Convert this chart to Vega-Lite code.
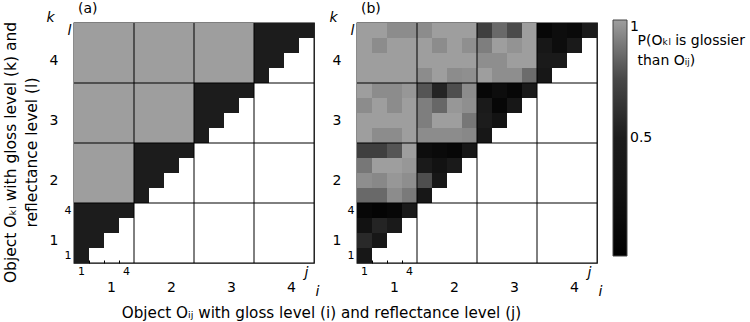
{
  "$schema": "https://vega.github.io/schema/vega-lite/v6.json",
  "padding": {"left": 2, "top": 1, "right": 0, "bottom": 0},
  "config": {
    "font": "DejaVu Sans",
    "view": {"stroke": "black", "strokeWidth": 1.3},
    "axis": {"grid": false, "domain": false, "ticks": false, "labelFont": "DejaVu Sans", "titleFont": "DejaVu Sans", "labelColor": "black", "titleColor": "black", "titleFontWeight": "normal", "labelAngle": 0, "labelOverlap": false},
    "title": {"font": "DejaVu Sans", "fontSize": 14, "fontWeight": "normal", "anchor": "start", "frame": "group", "offset": -6, "dx": 4, "color": "black"}
  },
  "datasets": {
    "vlines": [{"ij": "21"}, {"ij": "31"}, {"ij": "41"}],
    "hlines": [{"kl": "34"}, {"kl": "24"}, {"kl": "14"}],
    "a": [
      {"ij":"11","kl":"11","p":0.5},
      {"ij":"11","kl":"12","p":0.5},{"ij":"12","kl":"12","p":0.5},
      {"ij":"11","kl":"13","p":0.5},{"ij":"12","kl":"13","p":0.5},{"ij":"13","kl":"13","p":0.5},
      {"ij":"11","kl":"14","p":0.5},{"ij":"12","kl":"14","p":0.5},{"ij":"13","kl":"14","p":0.5},{"ij":"14","kl":"14","p":0.5},
      {"ij":"11","kl":"21","p":1},{"ij":"12","kl":"21","p":1},{"ij":"13","kl":"21","p":1},{"ij":"14","kl":"21","p":1},{"ij":"21","kl":"21","p":0.5},
      {"ij":"11","kl":"22","p":1},{"ij":"12","kl":"22","p":1},{"ij":"13","kl":"22","p":1},{"ij":"14","kl":"22","p":1},{"ij":"21","kl":"22","p":0.5},{"ij":"22","kl":"22","p":0.5},
      {"ij":"11","kl":"23","p":1},{"ij":"12","kl":"23","p":1},{"ij":"13","kl":"23","p":1},{"ij":"14","kl":"23","p":1},{"ij":"21","kl":"23","p":0.5},{"ij":"22","kl":"23","p":0.5},{"ij":"23","kl":"23","p":0.5},
      {"ij":"11","kl":"24","p":1},{"ij":"12","kl":"24","p":1},{"ij":"13","kl":"24","p":1},{"ij":"14","kl":"24","p":1},{"ij":"21","kl":"24","p":0.5},{"ij":"22","kl":"24","p":0.5},{"ij":"23","kl":"24","p":0.5},{"ij":"24","kl":"24","p":0.5},
      {"ij":"11","kl":"31","p":1},{"ij":"12","kl":"31","p":1},{"ij":"13","kl":"31","p":1},{"ij":"14","kl":"31","p":1},{"ij":"21","kl":"31","p":1},{"ij":"22","kl":"31","p":1},{"ij":"23","kl":"31","p":1},{"ij":"24","kl":"31","p":1},{"ij":"31","kl":"31","p":0.5},
      {"ij":"11","kl":"32","p":1},{"ij":"12","kl":"32","p":1},{"ij":"13","kl":"32","p":1},{"ij":"14","kl":"32","p":1},{"ij":"21","kl":"32","p":1},{"ij":"22","kl":"32","p":1},{"ij":"23","kl":"32","p":1},{"ij":"24","kl":"32","p":1},{"ij":"31","kl":"32","p":0.5},{"ij":"32","kl":"32","p":0.5},
      {"ij":"11","kl":"33","p":1},{"ij":"12","kl":"33","p":1},{"ij":"13","kl":"33","p":1},{"ij":"14","kl":"33","p":1},{"ij":"21","kl":"33","p":1},{"ij":"22","kl":"33","p":1},{"ij":"23","kl":"33","p":1},{"ij":"24","kl":"33","p":1},{"ij":"31","kl":"33","p":0.5},{"ij":"32","kl":"33","p":0.5},{"ij":"33","kl":"33","p":0.5},
      {"ij":"11","kl":"34","p":1},{"ij":"12","kl":"34","p":1},{"ij":"13","kl":"34","p":1},{"ij":"14","kl":"34","p":1},{"ij":"21","kl":"34","p":1},{"ij":"22","kl":"34","p":1},{"ij":"23","kl":"34","p":1},{"ij":"24","kl":"34","p":1},{"ij":"31","kl":"34","p":0.5},{"ij":"32","kl":"34","p":0.5},{"ij":"33","kl":"34","p":0.5},{"ij":"34","kl":"34","p":0.5},
      {"ij":"11","kl":"41","p":1},{"ij":"12","kl":"41","p":1},{"ij":"13","kl":"41","p":1},{"ij":"14","kl":"41","p":1},{"ij":"21","kl":"41","p":1},{"ij":"22","kl":"41","p":1},{"ij":"23","kl":"41","p":1},{"ij":"24","kl":"41","p":1},{"ij":"31","kl":"41","p":1},{"ij":"32","kl":"41","p":1},{"ij":"33","kl":"41","p":1},{"ij":"34","kl":"41","p":1},{"ij":"41","kl":"41","p":0.5},
      {"ij":"11","kl":"42","p":1},{"ij":"12","kl":"42","p":1},{"ij":"13","kl":"42","p":1},{"ij":"14","kl":"42","p":1},{"ij":"21","kl":"42","p":1},{"ij":"22","kl":"42","p":1},{"ij":"23","kl":"42","p":1},{"ij":"24","kl":"42","p":1},{"ij":"31","kl":"42","p":1},{"ij":"32","kl":"42","p":1},{"ij":"33","kl":"42","p":1},{"ij":"34","kl":"42","p":1},{"ij":"41","kl":"42","p":0.5},{"ij":"42","kl":"42","p":0.5},
      {"ij":"11","kl":"43","p":1},{"ij":"12","kl":"43","p":1},{"ij":"13","kl":"43","p":1},{"ij":"14","kl":"43","p":1},{"ij":"21","kl":"43","p":1},{"ij":"22","kl":"43","p":1},{"ij":"23","kl":"43","p":1},{"ij":"24","kl":"43","p":1},{"ij":"31","kl":"43","p":1},{"ij":"32","kl":"43","p":1},{"ij":"33","kl":"43","p":1},{"ij":"34","kl":"43","p":1},{"ij":"41","kl":"43","p":0.5},{"ij":"42","kl":"43","p":0.5},{"ij":"43","kl":"43","p":0.5},
      {"ij":"11","kl":"44","p":1},{"ij":"12","kl":"44","p":1},{"ij":"13","kl":"44","p":1},{"ij":"14","kl":"44","p":1},{"ij":"21","kl":"44","p":1},{"ij":"22","kl":"44","p":1},{"ij":"23","kl":"44","p":1},{"ij":"24","kl":"44","p":1},{"ij":"31","kl":"44","p":1},{"ij":"32","kl":"44","p":1},{"ij":"33","kl":"44","p":1},{"ij":"34","kl":"44","p":1},{"ij":"41","kl":"44","p":0.5},{"ij":"42","kl":"44","p":0.5},{"ij":"43","kl":"44","p":0.5},{"ij":"44","kl":"44","p":0.5}
    ],
    "b": [
      {"ij":"11","kl":"11","p":0.37},
      {"ij":"11","kl":"12","p":0.58},{"ij":"12","kl":"12","p":0.37},
      {"ij":"11","kl":"13","p":0.27},{"ij":"12","kl":"13","p":0.55},{"ij":"13","kl":"13","p":0.46},
      {"ij":"11","kl":"14","p":0.09},{"ij":"12","kl":"14","p":0.05},{"ij":"13","kl":"14","p":0.09},{"ij":"14","kl":"14","p":0.46},
      {"ij":"11","kl":"21","p":0.85},{"ij":"12","kl":"21","p":0.85},{"ij":"13","kl":"21","p":0.95},{"ij":"14","kl":"21","p":0.9},{"ij":"21","kl":"21","p":0.37},
      {"ij":"11","kl":"22","p":0.955},{"ij":"12","kl":"22","p":0.94},{"ij":"13","kl":"22","p":0.98},{"ij":"14","kl":"22","p":0.955},{"ij":"21","kl":"22","p":0.77},{"ij":"22","kl":"22","p":0.37},
      {"ij":"11","kl":"23","p":0.89},{"ij":"12","kl":"23","p":1},{"ij":"13","kl":"23","p":1},{"ij":"14","kl":"23","p":0.98},{"ij":"21","kl":"23","p":0.46},{"ij":"22","kl":"23","p":0.27},{"ij":"23","kl":"23","p":0.46},
      {"ij":"11","kl":"24","p":0.7},{"ij":"12","kl":"24","p":0.7},{"ij":"13","kl":"24","p":0.79},{"ij":"14","kl":"24","p":1},{"ij":"21","kl":"24","p":0.18},{"ij":"22","kl":"24","p":0.14},{"ij":"23","kl":"24","p":0.09},{"ij":"24","kl":"24","p":0.37},
      {"ij":"11","kl":"31","p":1},{"ij":"12","kl":"31","p":0.95},{"ij":"13","kl":"31","p":0.95},{"ij":"14","kl":"31","p":1},{"ij":"21","kl":"31","p":0.95},{"ij":"22","kl":"31","p":0.95},{"ij":"23","kl":"31","p":0.95},{"ij":"24","kl":"31","p":0.94},{"ij":"31","kl":"31","p":0.38},
      {"ij":"11","kl":"32","p":1},{"ij":"12","kl":"32","p":1},{"ij":"13","kl":"32","p":1},{"ij":"14","kl":"32","p":1},{"ij":"21","kl":"32","p":0.91},{"ij":"22","kl":"32","p":1},{"ij":"23","kl":"32","p":1},{"ij":"24","kl":"32","p":0.89},{"ij":"31","kl":"32","p":0.5},{"ij":"32","kl":"32","p":0.28},
      {"ij":"11","kl":"33","p":0.95},{"ij":"12","kl":"33","p":1},{"ij":"13","kl":"33","p":0.95},{"ij":"14","kl":"33","p":1},{"ij":"21","kl":"33","p":0.91},{"ij":"22","kl":"33","p":0.845},{"ij":"23","kl":"33","p":0.98},{"ij":"24","kl":"33","p":0.96},{"ij":"31","kl":"33","p":0.46},{"ij":"32","kl":"33","p":0.09},{"ij":"33","kl":"33","p":0.37},
      {"ij":"11","kl":"34","p":1},{"ij":"12","kl":"34","p":0.95},{"ij":"13","kl":"34","p":0.95},{"ij":"14","kl":"34","p":0.98},{"ij":"21","kl":"34","p":0.79},{"ij":"22","kl":"34","p":0.55},{"ij":"23","kl":"34","p":0.77},{"ij":"24","kl":"34","p":0.95},{"ij":"31","kl":"34","p":0.09},{"ij":"32","kl":"34","p":0.18},{"ij":"33","kl":"34","p":0.09},{"ij":"34","kl":"34","p":0.46},
      {"ij":"11","kl":"41","p":1},{"ij":"12","kl":"41","p":1},{"ij":"13","kl":"41","p":1},{"ij":"14","kl":"41","p":1},{"ij":"21","kl":"41","p":0.95},{"ij":"22","kl":"41","p":1},{"ij":"23","kl":"41","p":0.95},{"ij":"24","kl":"41","p":0.96},{"ij":"31","kl":"41","p":1},{"ij":"32","kl":"41","p":0.955},{"ij":"33","kl":"41","p":0.955},{"ij":"34","kl":"41","p":0.86},{"ij":"41","kl":"41","p":0.38},
      {"ij":"11","kl":"42","p":1},{"ij":"12","kl":"42","p":1},{"ij":"13","kl":"42","p":1},{"ij":"14","kl":"42","p":1},{"ij":"21","kl":"42","p":1},{"ij":"22","kl":"42","p":1},{"ij":"23","kl":"42","p":1},{"ij":"24","kl":"42","p":1},{"ij":"31","kl":"42","p":0.955},{"ij":"32","kl":"42","p":0.955},{"ij":"33","kl":"42","p":1},{"ij":"34","kl":"42","p":1},{"ij":"41","kl":"42","p":0.46},{"ij":"42","kl":"42","p":0.46},
      {"ij":"11","kl":"43","p":1},{"ij":"12","kl":"43","p":0.95},{"ij":"13","kl":"43","p":1},{"ij":"14","kl":"43","p":1},{"ij":"21","kl":"43","p":1},{"ij":"22","kl":"43","p":0.95},{"ij":"23","kl":"43","p":1},{"ij":"24","kl":"43","p":0.96},{"ij":"31","kl":"43","p":0.91},{"ij":"32","kl":"43","p":1},{"ij":"33","kl":"43","p":0.97},{"ij":"34","kl":"43","p":1},{"ij":"41","kl":"43","p":0.37},{"ij":"42","kl":"43","p":0.18},{"ij":"43","kl":"43","p":0.46},
      {"ij":"11","kl":"44","p":1},{"ij":"12","kl":"44","p":1},{"ij":"13","kl":"44","p":0.95},{"ij":"14","kl":"44","p":0.95},{"ij":"21","kl":"44","p":0.95},{"ij":"22","kl":"44","p":1},{"ij":"23","kl":"44","p":1},{"ij":"24","kl":"44","p":1},{"ij":"31","kl":"44","p":0.7},{"ij":"32","kl":"44","p":0.85},{"ij":"33","kl":"44","p":0.76},{"ij":"34","kl":"44","p":1},{"ij":"41","kl":"44","p":0.09},{"ij":"42","kl":"44","p":0.18},{"ij":"43","kl":"44","p":0.14},{"ij":"44","kl":"44","p":0.47}
    ]
  },
  "hconcat": [
    {
      "title": "(a)",
      "width": 240,
      "height": 240,
      "layer": [
        {
          "data": {"name": "a"},
          "mark": {"type": "rect"},
          "encoding": {
            "x": {"field": "ij", "type": "ordinal", "sort": null,
              "scale": {"domain": ["11","12","13","14","21","22","23","24","31","32","33","34","41","42","43","44"], "paddingInner": 0, "paddingOuter": 0},
              "axis": {"orient": "bottom", "values": ["11","14","44"], "labelExpr": "datum.value == '11' ? '1' : datum.value == '14' ? '4' : 'j'",
                "labelFontSize": {"condition": {"test": "datum.value == '44'", "value": 14}, "value": 11},
                "labelFontStyle": {"condition": {"test": "datum.value == '44'", "value": "italic"}, "value": "normal"},
                "labelPadding": 2,
                "title": "Object Oᵢⱼ with gloss level (i) and reflectance level (j)", "titleFontSize": 15.2,
                "titleX": 247, "titleY": 49, "titleAlign": "center", "titleBaseline": "middle", "titleAngle": 0}},
            "y": {"field": "kl", "type": "ordinal", "sort": null,
              "scale": {"domain": ["44","43","42","41","34","33","32","31","24","23","22","21","14","13","12","11"], "paddingInner": 0, "paddingOuter": 0},
              "axis": {"orient": "left", "values": ["44","14","11"], "labelExpr": "datum.value == '11' ? '1' : datum.value == '14' ? '4' : 'l'",
                "labelFontSize": {"condition": {"test": "datum.value == '44'", "value": 14}, "value": 11},
                "labelFontStyle": {"condition": {"test": "datum.value == '44'", "value": "italic"}, "value": "normal"},
                "labelPadding": 3,
                "title": ["Object Oₖₗ with gloss level (k) and", "reflectance level (l)"], "titleFontSize": 15.5, "titleLineHeight": 21,
                "titleX": -71, "titleY": 129, "titleAlign": "center", "titleBaseline": "top", "titleAngle": 270}},
            "color": {"field": "p", "type": "quantitative",
              "scale": {"domain": [0, 0.5, 0.75, 1], "range": ["#000000", "#1c1c1c", "#484848", "#9e9e9e"]},
              "legend": {"title": null, "values": [0.5, 1], "labelExpr": "datum.value == 1 ? '1' : '0.5'", "gradientLength": 236, "gradientThickness": 14,
                "labelFontSize": 14, "labelFont": "DejaVu Sans", "labelColor": "black", "labelOffset": 3, "labelBaseline": "middle",
                "orient": "none", "legendX": 539, "legendY": -3, "gradientStrokeColor": "#444", "gradientStrokeWidth": 1}}
          }
        },
        {
          "data": {"name": "vlines"},
          "mark": {"type": "rule", "color": "black", "strokeWidth": 1},
          "encoding": {
            "x": {"field": "ij", "type": "ordinal", "bandPosition": 0,
              "scale": {"domain": ["11","12","13","14","21","22","23","24","31","32","33","34","41","42","43","44"], "paddingInner": 0, "paddingOuter": 0},
              "axis": {"orient": "bottom", "values": ["12","13","14","23","33","43"], "bandPosition": 0,
                "labelExpr": "datum.value == '13' ? '1' : datum.value == '23' ? '2' : datum.value == '33' ? '3' : datum.value == '43' ? '4' : ''",
                "labelFontSize": 14, "labelPadding": 20,
                "ticks": true, "tickSize": -3, "tickColor": "black", "tickWidth": 1,
                "tickOpacity": {"condition": {"test": "datum.value == '12' || datum.value == '13' || datum.value == '14'", "value": 1}, "value": 0},
                "title": "i", "titleFontSize": 14, "titleFontStyle": "italic",
                "titleX": 243, "titleY": 28, "titleAlign": "center", "titleBaseline": "middle", "titleAngle": 0}}
          }
        },
        {
          "data": {"name": "hlines"},
          "mark": {"type": "rule", "color": "black", "strokeWidth": 1},
          "encoding": {
            "y": {"field": "kl", "type": "ordinal", "bandPosition": 0,
              "scale": {"domain": ["44","43","42","41","34","33","32","31","24","23","22","21","14","13","12","11"], "paddingInner": 0, "paddingOuter": 0},
              "axis": {"orient": "left", "values": ["42","32","22","13","12","11"], "bandPosition": 0,
                "labelExpr": "datum.value == '42' ? '4' : datum.value == '32' ? '3' : datum.value == '22' ? '2' : datum.value == '12' ? '1' : ''",
                "labelFontSize": 14, "labelPadding": 19,
                "ticks": true, "tickSize": -3, "tickColor": "black", "tickWidth": 1,
                "tickOpacity": {"condition": {"test": "datum.value == '13' || datum.value == '12' || datum.value == '11'", "value": 1}, "value": 0},
                "title": "k", "titleFontSize": 14, "titleFontStyle": "italic",
                "titleX": -24, "titleY": -6, "titleAlign": "center", "titleBaseline": "middle", "titleAngle": 0}}
          }
        }
      ],
      "resolve": {"axis": {"x": "independent", "y": "independent"}}
    },
    {
      "title": "(b)",
      "width": 240,
      "height": 240,
      "layer": [
        {
          "data": {"name": "b"},
          "mark": {"type": "rect"},
          "encoding": {
            "x": {"field": "ij", "type": "ordinal", "sort": null,
              "scale": {"domain": ["11","12","13","14","21","22","23","24","31","32","33","34","41","42","43","44"], "paddingInner": 0, "paddingOuter": 0},
              "axis": {"orient": "bottom", "values": ["11","14","44"], "labelExpr": "datum.value == '11' ? '1' : datum.value == '14' ? '4' : 'j'",
                "labelFontSize": {"condition": {"test": "datum.value == '44'", "value": 14}, "value": 11},
                "labelFontStyle": {"condition": {"test": "datum.value == '44'", "value": "italic"}, "value": "normal"},
                "labelPadding": 2, "title": null}},
            "y": {"field": "kl", "type": "ordinal", "sort": null,
              "scale": {"domain": ["44","43","42","41","34","33","32","31","24","23","22","21","14","13","12","11"], "paddingInner": 0, "paddingOuter": 0},
              "axis": {"orient": "left", "values": ["44","14","11"], "labelExpr": "datum.value == '11' ? '1' : datum.value == '14' ? '4' : 'l'",
                "labelFontSize": {"condition": {"test": "datum.value == '44'", "value": 14}, "value": 11},
                "labelFontStyle": {"condition": {"test": "datum.value == '44'", "value": "italic"}, "value": "normal"},
                "labelPadding": 3,
                "title": ["P(Oₖₗ is glossier", "than Oᵢⱼ)"], "titleFontSize": 14, "titleLineHeight": 20,
                "titleX": 280, "titleY": 10, "titleAlign": "left", "titleBaseline": "top", "titleAngle": 0}},
            "color": {"field": "p", "type": "quantitative",
              "scale": {"domain": [0, 0.5, 0.75, 1], "range": ["#000000", "#1c1c1c", "#484848", "#9e9e9e"]},
              "legend": {"title": null, "values": [0.5, 1], "labelExpr": "datum.value == 1 ? '1' : '0.5'", "gradientLength": 236, "gradientThickness": 14,
                "labelFontSize": 14, "labelFont": "DejaVu Sans", "labelColor": "black", "labelOffset": 3, "labelBaseline": "middle",
                "orient": "none", "legendX": 539, "legendY": -3, "gradientStrokeColor": "#444", "gradientStrokeWidth": 1}}
          }
        },
        {
          "data": {"name": "vlines"},
          "mark": {"type": "rule", "color": "black", "strokeWidth": 1},
          "encoding": {
            "x": {"field": "ij", "type": "ordinal", "bandPosition": 0,
              "scale": {"domain": ["11","12","13","14","21","22","23","24","31","32","33","34","41","42","43","44"], "paddingInner": 0, "paddingOuter": 0},
              "axis": {"orient": "bottom", "values": ["12","13","14","23","33","43"], "bandPosition": 0,
                "labelExpr": "datum.value == '13' ? '1' : datum.value == '23' ? '2' : datum.value == '33' ? '3' : datum.value == '43' ? '4' : ''",
                "labelFontSize": 14, "labelPadding": 20,
                "ticks": true, "tickSize": -3, "tickColor": "black", "tickWidth": 1,
                "tickOpacity": {"condition": {"test": "datum.value == '12' || datum.value == '13' || datum.value == '14'", "value": 1}, "value": 0},
                "title": "i", "titleFontSize": 14, "titleFontStyle": "italic",
                "titleX": 243, "titleY": 28, "titleAlign": "center", "titleBaseline": "middle", "titleAngle": 0}}
          }
        },
        {
          "data": {"name": "hlines"},
          "mark": {"type": "rule", "color": "black", "strokeWidth": 1},
          "encoding": {
            "y": {"field": "kl", "type": "ordinal", "bandPosition": 0,
              "scale": {"domain": ["44","43","42","41","34","33","32","31","24","23","22","21","14","13","12","11"], "paddingInner": 0, "paddingOuter": 0},
              "axis": {"orient": "left", "values": ["42","32","22","13","12","11"], "bandPosition": 0,
                "labelExpr": "datum.value == '42' ? '4' : datum.value == '32' ? '3' : datum.value == '22' ? '2' : datum.value == '12' ? '1' : ''",
                "labelFontSize": 14, "labelPadding": 19,
                "ticks": true, "tickSize": -3, "tickColor": "black", "tickWidth": 1,
                "tickOpacity": {"condition": {"test": "datum.value == '13' || datum.value == '12' || datum.value == '11'", "value": 1}, "value": 0},
                "title": "k", "titleFontSize": 14, "titleFontStyle": "italic",
                "titleX": -24, "titleY": -6, "titleAlign": "center", "titleBaseline": "middle", "titleAngle": 0}}
          }
        }
      ],
      "resolve": {"axis": {"x": "independent", "y": "independent"}}
    }
  ],
  "spacing": 43,
  "bounds": "flush",
  "resolve": {"scale": {"color": "shared"}}
}
